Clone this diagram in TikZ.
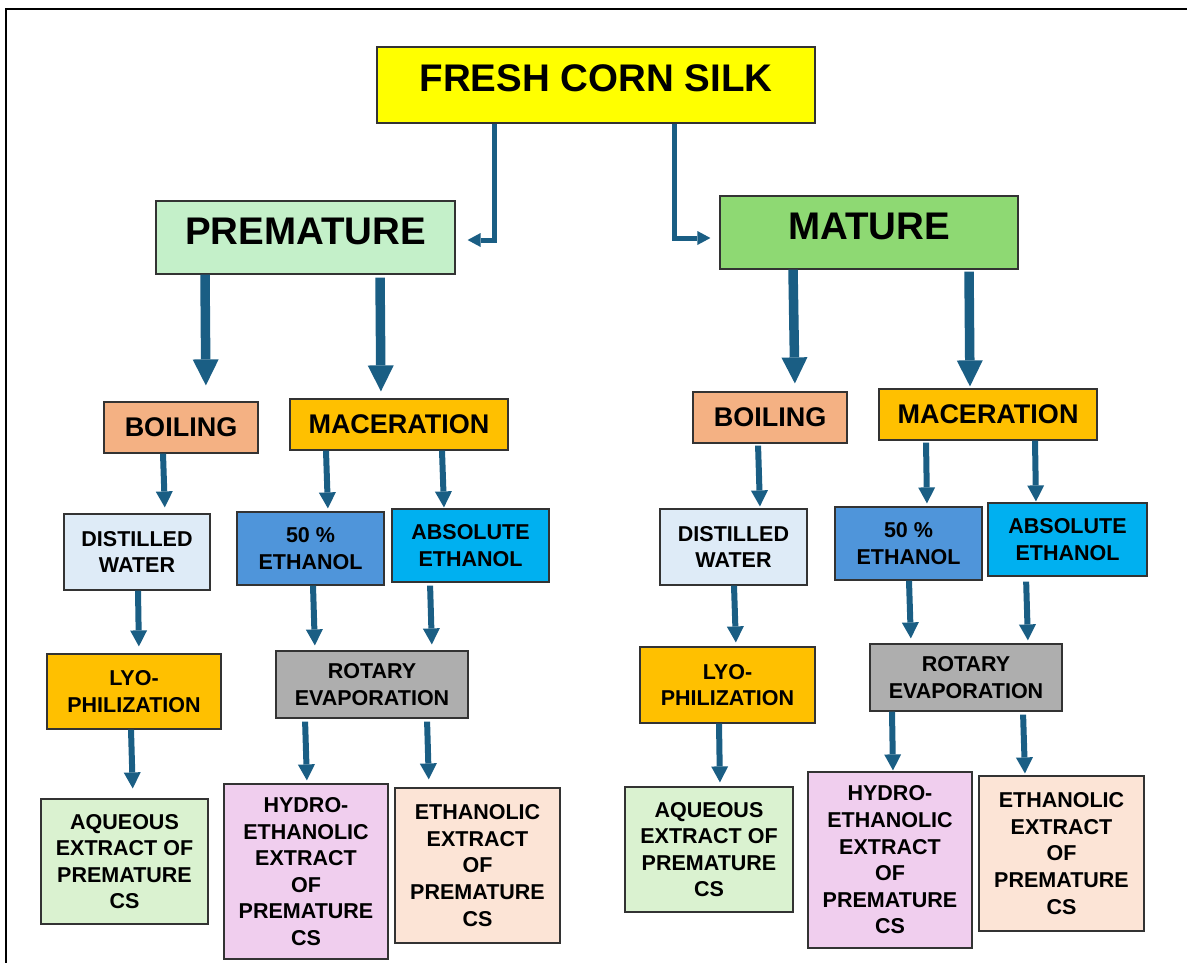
\documentclass[tikz,border=0pt]{standalone}
\usepackage{fontspec}
\setmainfont{Liberation Sans}
\usepackage{xcolor}
\usepackage{tikz}
\usetikzlibrary{arrows.meta}

\definecolor{arrowblue}{HTML}{1A5E84}
\definecolor{silkyellow}{HTML}{FFFF00}
\definecolor{premgreen}{HTML}{C4F0C9}
\definecolor{matgreen}{HTML}{8ED973}
\definecolor{boilorange}{HTML}{F4B183}
\definecolor{macgold}{HTML}{FFC000}
\definecolor{waterblue}{HTML}{DEEBF7}
\definecolor{fiftyblue}{HTML}{4F95DA}
\definecolor{absblue}{HTML}{00B0F0}
\definecolor{rotgray}{HTML}{AEAEAE}
\definecolor{aqgreen}{HTML}{DAF2D0}
\definecolor{hydropink}{HTML}{F0CEEE}
\definecolor{ethpeach}{HTML}{FCE4D6}

\begin{document}
\begin{tikzpicture}[x=1pt,y=-1pt,
            box/.style={draw=black!80,line width=1.2pt,inner sep=0pt,align=center},
            bigtext/.style={font=\fontsize{38.5}{46}\selectfont\bfseries,text depth=13pt},
            midtext/.style={font=\fontsize{27}{32}\selectfont\bfseries},
            smalltext/.style={font=\fontsize{21.5}{26.6}\selectfont\bfseries},
            fatarrow/.style={draw=arrowblue,line width=9.5pt,-{Triangle[width=26pt,length=26pt,line width=0pt]}},
            midarrow/.style={draw=arrowblue,line width=6pt,-{Triangle[width=17pt,length=16pt,line width=0pt]}},
            elbow/.style={draw=arrowblue,line width=5pt,-{Triangle[width=14pt,length=13pt,line width=0pt]}}]
            \useasboundingbox (0,0) rectangle (1187,962);
            \path[draw=black,line width=2pt] (6,975) -- (6,9) -- (1200,9);

            \node[box,bigtext,fill=silkyellow,minimum width=438pt,minimum height=76pt] (fresh) at (596,85) {FRESH CORN SILK};
            \node[box,bigtext,fill=premgreen,minimum width=299pt,minimum height=73pt] (pre) at (305.5,237.5) {PREMATURE};
            \node[box,bigtext,fill=matgreen,minimum width=298pt,minimum height=73pt] (mat) at (869,232.5) {MATURE};

            \node[box,midtext,fill=boilorange,minimum width=154pt,minimum height=51pt] (boilL) at (181,427.5) {BOILING};
            \node[box,midtext,fill=macgold,minimum width=218pt,minimum height=51pt] (macL) at (399,424.5) {MACERATION};
            \node[box,midtext,fill=boilorange,minimum width=154pt,minimum height=51pt] (boilR) at (770,417.5) {BOILING};
            \node[box,midtext,fill=macgold,minimum width=218pt,minimum height=51pt] (macR) at (988,414.5) {MACERATION};

            \node[box,smalltext,fill=waterblue,minimum width=146pt,minimum height=76pt] (distL) at (137,552) {DISTILLED\\WATER};
            \node[box,smalltext,fill=fiftyblue,minimum width=147pt,minimum height=73pt] (fiftyL) at (310.5,548.5) {50 \%\\ETHANOL};
            \node[box,smalltext,fill=absblue,minimum width=157pt,minimum height=73pt] (absL) at (470.5,545.5) {ABSOLUTE\\ETHANOL};
            \node[box,smalltext,fill=waterblue,minimum width=147pt,minimum height=76pt] (distR) at (733.5,547) {DISTILLED\\WATER};
            \node[box,smalltext,fill=fiftyblue,minimum width=147pt,minimum height=73pt] (fiftyR) at (908.5,543.5) {50 \%\\ETHANOL};
            \node[box,smalltext,fill=absblue,minimum width=159pt,minimum height=73pt] (absR) at (1067.5,539.5) {ABSOLUTE\\ETHANOL};

            \node[box,smalltext,fill=macgold,minimum width=174pt,minimum height=75pt] (lyoL) at (134,691.5) {LYO-\\PHILIZATION};
            \node[box,smalltext,fill=rotgray,minimum width=192pt,minimum height=67pt] (rotL) at (372,684.5) {ROTARY\\EVAPORATION};
            \node[box,smalltext,fill=macgold,minimum width=175pt,minimum height=76pt] (lyoR) at (727.5,685) {LYO-\\PHILIZATION};
            \node[box,smalltext,fill=rotgray,minimum width=192pt,minimum height=67pt] (rotR) at (966,677.5) {ROTARY\\EVAPORATION};

            \node[box,smalltext,fill=aqgreen,minimum width=167pt,minimum height=125pt] (aqL) at (124.5,861.5) {AQUEOUS\\EXTRACT OF\\PREMATURE\\CS};
            \node[box,smalltext,fill=hydropink,minimum width=164pt,minimum height=175pt] (hyL) at (306,871.5) {HYDRO-\\ETHANOLIC\\EXTRACT\\OF\\PREMATURE\\CS};
            \node[box,smalltext,fill=ethpeach,minimum width=165pt,minimum height=155pt] (ethL) at (477.5,865.5) {ETHANOLIC\\EXTRACT\\OF\\PREMATURE\\CS};
            \node[box,smalltext,fill=aqgreen,minimum width=168pt,minimum height=125pt] (aqR) at (709,849.5) {AQUEOUS\\EXTRACT OF\\PREMATURE\\CS};
            \node[box,smalltext,fill=hydropink,minimum width=164pt,minimum height=176pt] (hyR) at (890,860) {HYDRO-\\ETHANOLIC\\EXTRACT\\OF\\PREMATURE\\CS};
            \node[box,smalltext,fill=ethpeach,minimum width=165pt,minimum height=155pt] (ethR) at (1061.5,853.5) {ETHANOLIC\\EXTRACT\\OF\\PREMATURE\\CS};

            \path[elbow,shorten >=12pt] (494,0 |- fresh.south) |- ([yshift=-2.5pt]pre.east);
            \path[elbow,shorten >=9pt] (674,0 |- fresh.south) |- ([yshift=-5.5pt]mat.west);

            \path[fatarrow,shorten >=16pt] (205,0 |- pre.south) -- (206,0 |- boilL.north);
            \path[fatarrow,shorten <=3pt,shorten >=7pt] (380,0 |- pre.south) -- (381,0 |- macL.north);
            \path[fatarrow,shorten >=8pt] (793,0 |- mat.south) -- (795,0 |- boilR.north);
            \path[fatarrow,shorten <=2pt,shorten >=2pt] (969,0 |- mat.south) -- (970,0 |- macR.north);

            \path[midarrow,shorten >=6pt] (163,0 |- boilL.south) -- (165,0 |- distL.north);
            \path[midarrow,shorten >=3pt] (326,0 |- macL.south) -- (328,0 |- fiftyL.north);
            \path[midarrow,shorten >=1pt] (442,0 |- macL.south) -- (444,0 |- absL.north);
            \path[midarrow,shorten >=7pt] (138,0 |- distL.south) -- (139,0 |- lyoL.north);
            \path[midarrow,shorten >=5pt] (313,0 |- fiftyL.south) -- (315,0 |- rotL.north);
            \path[midarrow,shorten <=3pt,shorten >=6pt] (430,0 |- absL.south) -- (432,0 |- rotL.north);
            \path[midarrow,shorten >=10pt] (131,0 |- lyoL.south) -- (133,0 |- aqL.north);
            \path[midarrow,shorten <=3pt,shorten >=3pt] (305,0 |- rotL.south) -- (307,0 |- hyL.north);
            \path[midarrow,shorten <=3pt,shorten >=8pt] (427,0 |- rotL.south) -- (429,0 |- ethL.north);

            \path[midarrow,shorten <=2pt,shorten >=2pt] (758,0 |- boilR.south) -- (760,0 |- distR.north);
            \path[midarrow,shorten <=2pt,shorten >=3pt] (926,0 |- macR.south) -- (927,0 |- fiftyR.north);
            \path[midarrow,shorten >=1pt] (1035,0 |- macR.south) -- (1036,0 |- absR.north);
            \path[midarrow,shorten >=4pt] (734,0 |- distR.south) -- (736,0 |- lyoR.north);
            \path[midarrow,shorten >=5pt] (909,0 |- fiftyR.south) -- (911,0 |- rotR.north);
            \path[midarrow,shorten <=5pt,shorten >=3pt] (1026,0 |- absR.south) -- (1028,0 |- rotR.north);
            \path[midarrow,shorten >=4pt] (719,0 |- lyoR.south) -- (720,0 |- aqR.north);
            \path[midarrow,shorten >=1pt] (892,0 |- rotR.south) -- (893,0 |- hyR.north);
            \path[midarrow,shorten <=3pt,shorten >=2pt] (1023,0 |- rotR.south) -- (1025,0 |- ethR.north);
          \end{tikzpicture}
\end{document}
